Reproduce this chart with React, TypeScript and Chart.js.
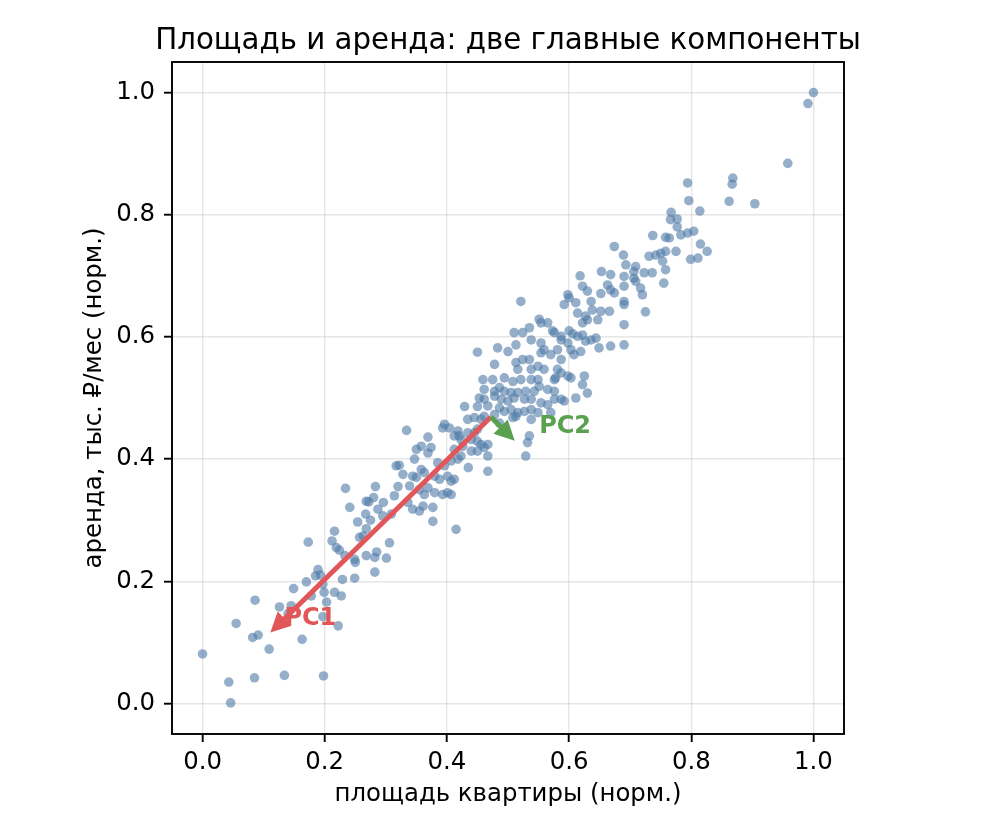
import React, { useEffect, useRef } from "react";
import { Chart, registerables } from "chart.js";

Chart.register(...registerables);

// Normalised apartment area (x) and rent (y)
const areaX = [
  0.000, 0.046, 0.043, 0.085, 0.134, 0.198, 0.055, 0.086, 0.082, 0.091, 0.109, 0.163, 0.126, 0.145, 0.149, 0.140,
  0.197, 0.222, 0.170, 0.185, 0.189, 0.199, 0.216, 0.227, 0.229, 0.203, 0.178, 0.197, 0.234, 0.283, 0.241, 0.272,
  0.280, 0.296, 0.287, 0.267, 0.254, 0.275, 0.268, 0.263, 0.257, 0.216, 0.173, 0.212, 0.219, 0.224, 0.233, 0.249,
  0.250, 0.268, 0.282, 0.285, 0.301, 0.282, 0.306, 0.249, 0.193, 0.334, 0.429, 0.396, 0.404, 0.393, 0.418, 0.420,
  0.434, 0.434, 0.369, 0.358, 0.350, 0.374, 0.369, 0.347, 0.385, 0.396, 0.407, 0.418, 0.412, 0.426, 0.317, 0.322,
  0.328, 0.358, 0.363, 0.350, 0.344, 0.380, 0.388, 0.401, 0.407, 0.412, 0.320, 0.339, 0.355, 0.369, 0.380, 0.363,
  0.393, 0.401, 0.407, 0.268, 0.314, 0.336, 0.344, 0.355, 0.361, 0.377, 0.295, 0.309, 0.510, 0.524, 0.535, 0.554,
  0.565, 0.450, 0.483, 0.500, 0.513, 0.538, 0.554, 0.559, 0.554, 0.570, 0.581, 0.587, 0.576, 0.598, 0.478, 0.513,
  0.524, 0.535, 0.516, 0.538, 0.549, 0.559, 0.581, 0.587, 0.578, 0.598, 0.459, 0.475, 0.494, 0.508, 0.521, 0.538,
  0.549, 0.461, 0.478, 0.486, 0.494, 0.505, 0.516, 0.529, 0.543, 0.551, 0.565, 0.576, 0.453, 0.461, 0.478, 0.489,
  0.500, 0.510, 0.527, 0.538, 0.554, 0.565, 0.576, 0.450, 0.467, 0.486, 0.494, 0.505, 0.516, 0.527, 0.538, 0.549,
  0.570, 0.587, 0.592, 0.445, 0.461, 0.478, 0.486, 0.508, 0.513, 0.538, 0.445, 0.450, 0.456, 0.412, 0.423, 0.440,
  0.450, 0.456, 0.467, 0.461, 0.535, 0.532, 0.529, 0.440, 0.450, 0.467, 0.423, 0.521, 0.618, 0.653, 0.668, 0.690,
  0.622, 0.630, 0.652, 0.663, 0.668, 0.690, 0.674, 0.598, 0.600, 0.611, 0.592, 0.636, 0.638, 0.652, 0.666, 0.690,
  0.690, 0.614, 0.627, 0.630, 0.647, 0.622, 0.551, 0.573, 0.600, 0.606, 0.587, 0.614, 0.622, 0.636, 0.644, 0.627,
  0.690, 0.649, 0.668, 0.690, 0.603, 0.608, 0.619, 0.587, 0.603, 0.625, 0.622, 0.630, 0.611, 0.576, 0.674, 0.737,
  0.758, 0.764, 0.766, 0.777, 0.783, 0.794, 0.804, 0.815, 0.826, 0.799, 0.811, 0.731, 0.742, 0.750, 0.758, 0.775,
  0.753, 0.689, 0.693, 0.709, 0.706, 0.723, 0.736, 0.758, 0.755, 0.706, 0.709, 0.717, 0.720, 0.725, 0.794, 0.868,
  0.867, 0.796, 0.862, 0.904, 0.814, 0.767, 0.777, 0.958, 0.991, 1.000, 0.435, 0.467, 0.415, 0.377,
];
const rentY = [
  0.081, 0.001, 0.035, 0.042, 0.046, 0.045, 0.131, 0.169, 0.108, 0.112, 0.089, 0.105, 0.158, 0.160, 0.188, 0.147,
  0.142, 0.127, 0.199, 0.209, 0.219, 0.182, 0.182, 0.176, 0.203, 0.166, 0.176, 0.195, 0.352, 0.355, 0.321, 0.330,
  0.337, 0.329, 0.318, 0.310, 0.297, 0.300, 0.286, 0.274, 0.272, 0.282, 0.264, 0.266, 0.255, 0.251, 0.242, 0.236,
  0.231, 0.242, 0.239, 0.248, 0.238, 0.215, 0.263, 0.205, 0.210, 0.447, 0.486, 0.457, 0.451, 0.451, 0.446, 0.438,
  0.443, 0.465, 0.436, 0.421, 0.416, 0.419, 0.410, 0.400, 0.394, 0.389, 0.397, 0.400, 0.416, 0.421, 0.389, 0.390,
  0.375, 0.383, 0.378, 0.370, 0.372, 0.372, 0.367, 0.372, 0.364, 0.367, 0.355, 0.356, 0.350, 0.353, 0.345, 0.342,
  0.342, 0.345, 0.342, 0.331, 0.340, 0.329, 0.318, 0.315, 0.323, 0.321, 0.307, 0.310, 0.607, 0.607, 0.615, 0.623,
  0.623, 0.575, 0.582, 0.576, 0.587, 0.595, 0.590, 0.579, 0.574, 0.571, 0.579, 0.595, 0.607, 0.590, 0.555, 0.558,
  0.563, 0.563, 0.547, 0.547, 0.552, 0.547, 0.547, 0.541, 0.533, 0.536, 0.530, 0.530, 0.533, 0.527, 0.530, 0.530,
  0.530, 0.514, 0.511, 0.517, 0.511, 0.509, 0.509, 0.511, 0.511, 0.519, 0.514, 0.511, 0.500, 0.498, 0.503, 0.498,
  0.495, 0.500, 0.498, 0.498, 0.492, 0.489, 0.498, 0.486, 0.487, 0.484, 0.478, 0.481, 0.476, 0.478, 0.481, 0.476,
  0.476, 0.498, 0.495, 0.468, 0.470, 0.473, 0.459, 0.468, 0.470, 0.465, 0.443, 0.449, 0.465, 0.438, 0.432, 0.432,
  0.429, 0.424, 0.424, 0.419, 0.438, 0.427, 0.405, 0.413, 0.413, 0.405, 0.405, 0.658, 0.700, 0.707, 0.702, 0.699,
  0.683, 0.675, 0.671, 0.685, 0.677, 0.683, 0.672, 0.669, 0.664, 0.656, 0.653, 0.658, 0.644, 0.642, 0.642, 0.658,
  0.653, 0.639, 0.634, 0.628, 0.628, 0.623, 0.629, 0.610, 0.610, 0.605, 0.601, 0.601, 0.603, 0.595, 0.598, 0.593,
  0.620, 0.582, 0.585, 0.587, 0.579, 0.571, 0.576, 0.563, 0.533, 0.536, 0.522, 0.508, 0.500, 0.530, 0.748, 0.766,
  0.763, 0.762, 0.792, 0.780, 0.767, 0.770, 0.773, 0.752, 0.740, 0.727, 0.729, 0.732, 0.734, 0.737, 0.740, 0.740,
  0.724, 0.734, 0.718, 0.715, 0.707, 0.705, 0.705, 0.710, 0.688, 0.696, 0.691, 0.680, 0.669, 0.641, 0.852, 0.860,
  0.850, 0.823, 0.822, 0.818, 0.806, 0.804, 0.793, 0.884, 0.982, 1.000, 0.386, 0.380, 0.285, 0.298,
];

const tickValues = [0, 0.2, 0.4, 0.6, 0.8, 1.0];
const tickLabels = ["0.0", "0.2", "0.4", "0.6", "0.8", "1.0"];

// Principal components: common origin (mean) and arrow tips
const pcOrigin = [0.472, 0.469];
const pc1Tip = [0.111, 0.116];
const pc2Tip = [0.511, 0.430];
const pc1LabelAt = [0.134, 0.138];
const pc2LabelAt = [0.551, 0.453];

const titleText = "Площадь и аренда: две главные компоненты";
const xTitle = "площадь квартиры (норм.)";
const yTitle = "аренда, тыс. ₽/мес (норм.)";

const FONT = '"DejaVu Sans", "Liberation Sans", sans-serif';
const POINT_COLOR = "rgba(78,121,167,0.6)";
const RED = "#e15759";
const GREEN = "#59a14f";

function drawArrow(ctx: CanvasRenderingContext2D, x0: number, y0: number, x1: number, y1: number, color: string) {
  const dx = x1 - x0;
  const dy = y1 - y0;
  const len = Math.hypot(dx, dy);
  const ux = dx / len;
  const uy = dy / len;
  const headLen = 20;
  const headW = 10;
  const bx = x1 - ux * headLen;
  const by = y1 - uy * headLen;
  ctx.save();
  ctx.strokeStyle = color;
  ctx.fillStyle = color;
  ctx.lineWidth = 5;
  ctx.lineCap = "butt";
  ctx.beginPath();
  ctx.moveTo(x0, y0);
  ctx.lineTo(bx + ux * 2, by + uy * 2);
  ctx.stroke();
  ctx.beginPath();
  ctx.moveTo(x1, y1);
  ctx.lineTo(bx - uy * headW, by + ux * headW);
  ctx.lineTo(bx + uy * headW, by - ux * headW);
  ctx.closePath();
  ctx.fill();
  ctx.restore();
}

const overlayPlugin = {
  id: "overlay",
  afterDatasetsDraw(chart: any) {
    const { ctx, scales } = chart;
    const x = scales.x;
    const y = scales.y;
    const ox = x.getPixelForValue(pcOrigin[0]);
    const oy = y.getPixelForValue(pcOrigin[1]);
    ctx.save();
    ctx.font = `bold 24px ${FONT}`;
    ctx.textAlign = "left";
    ctx.textBaseline = "middle";
    ctx.fillStyle = RED;
    ctx.fillText("PC1", x.getPixelForValue(pc1LabelAt[0]), y.getPixelForValue(pc1LabelAt[1]));
    ctx.fillStyle = GREEN;
    ctx.fillText("PC2", x.getPixelForValue(pc2LabelAt[0]), y.getPixelForValue(pc2LabelAt[1]));
    ctx.restore();
    drawArrow(ctx, ox, oy, x.getPixelForValue(pc1Tip[0]), y.getPixelForValue(pc1Tip[1]), RED);
    drawArrow(ctx, ox, oy, x.getPixelForValue(pc2Tip[0]), y.getPixelForValue(pc2Tip[1]), GREEN);
  },
  afterDraw(chart: any) {
    const { ctx, chartArea: a } = chart;
    ctx.save();
    ctx.strokeStyle = "#000";
    ctx.lineWidth = 1.9;
    ctx.strokeRect(a.left, a.top, a.right - a.left, a.bottom - a.top);
    ctx.fillStyle = "#000";
    ctx.textAlign = "center";
    ctx.textBaseline = "middle";
    const cx = (a.left + a.right) / 2;
    const cy = (a.top + a.bottom) / 2;
    ctx.font = `29.3px ${FONT}`;
    ctx.fillText(titleText, cx, a.top - 21);
    ctx.font = `24.4px ${FONT}`;
    ctx.fillText(xTitle, cx, a.bottom + 61);
    ctx.translate(a.left - 77, cy);
    ctx.rotate(-Math.PI / 2);
    ctx.fillText(yTitle, 0, 0);
    ctx.restore();
  },
};

function axis(isX: boolean) {
  return {
    type: "linear",
    min: -0.05,
    max: 1.05,
    afterBuildTicks: (scale: any) => {
      scale.ticks = tickValues.map((v) => ({ value: v }));
    },
    afterFit: (scale: any) => {
      if (isX) scale.height = 98;
      else scale.width = 172;
    },
    ticks: {
      callback: (v: number) => {
        const i = tickValues.findIndex((t) => Math.abs(t - v) < 1e-9);
        return i >= 0 ? tickLabels[i] : "";
      },
      font: { family: FONT, size: 24.4 },
      color: "#000",
      padding: isX ? 6 : 9,
      maxRotation: 0,
      autoSkip: false,
    },
    grid: {
      color: "rgba(176,176,176,0.32)",
      lineWidth: 1.4,
      tickColor: "#000",
      tickLength: 8,
      tickWidth: 1.9,
      drawTicks: true,
    },
    border: { display: false },
  };
}

export default function App() {
  const canvasRef = useRef<HTMLCanvasElement | null>(null);

  useEffect(() => {
    const canvas = canvasRef.current;
    if (!canvas) return;
    const points = areaX.map((v, i) => ({ x: v, y: rentY[i] }));
    const chart = new Chart(canvas, {
      type: "scatter",
      data: {
        datasets: [
          {
            data: points,
            pointRadius: 4.8,
            pointHoverRadius: 4.8,
            pointBackgroundColor: POINT_COLOR,
            pointBorderWidth: 0,
          },
        ],
      },
      options: {
        responsive: false,
        animation: false,
        devicePixelRatio: 1,
        layout: { padding: { top: 62, right: 148, left: 0, bottom: 0 } },
        plugins: { legend: { display: false }, tooltip: { enabled: false }, title: { display: false } },
        scales: { x: axis(true) as any, y: axis(false) as any },
      },
      plugins: [overlayPlugin],
    });
    return () => chart.destroy();
  }, []);

  return (
    <div style={{ position: "absolute", left: 0, top: 0, width: 992, height: 832, background: "#fff" }}>
      <canvas ref={canvasRef} width={992} height={832} style={{ width: 992, height: 832, display: "block" }} />
    </div>
  );
}
